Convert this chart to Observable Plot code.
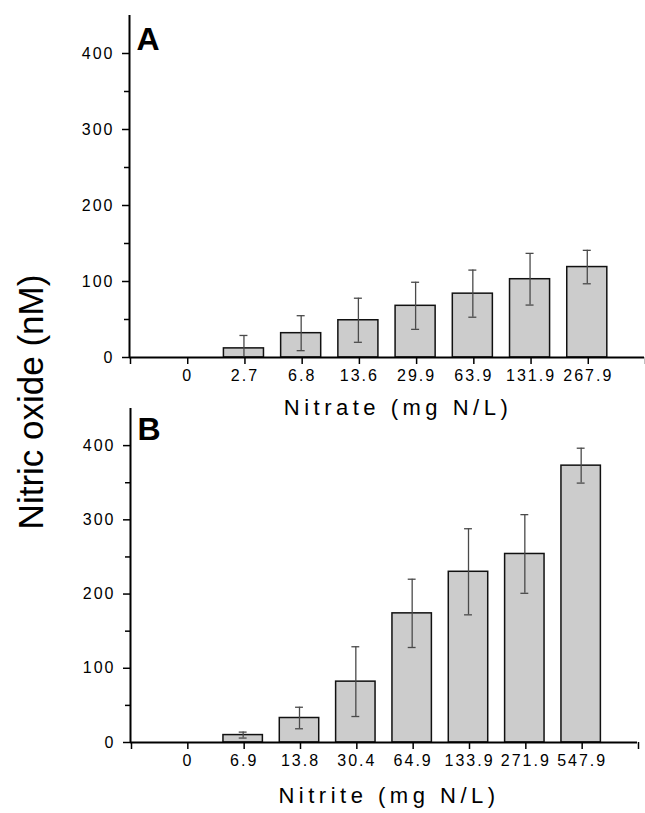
<!DOCTYPE html>
<html><head><meta charset="utf-8">
<script src="https://cdn.jsdelivr.net/npm/d3@7"></script>
<script src="https://cdn.jsdelivr.net/npm/@observablehq/plot@0.6"></script>
<style>
body{margin:0;background:#fff;}
#wrap{position:relative;width:645px;height:813px;font-family:"Liberation Sans",Arial,sans-serif;}
#wrap svg{position:absolute;left:0;}
</style></head><body><div id="wrap"></div>
<script>
// Panel A: nitrate
const nitrateLabels = ["0","2.7","6.8","13.6","29.9","63.9","131.9","267.9"];
const nitrateNO = [0,12,32,49,68,84,103,119];
const nitrateSD = [0,17,23,29,31,31,34,22];
// Panel B: nitrite
const nitriteLabels = ["0","6.9","13.8","30.4","64.9","133.9","271.9","547.9"];
const nitriteNO = [0,10,33,82,174,230,254,373];
const nitriteSD = [0,4,14.5,47,46,58,53,23.5];
const yTicks = [0,100,200,300,400];
const yMinorTicks = [50,150,250,350];
const yMax = 450;

const FONT = '"Liberation Sans", Arial, sans-serif';
const wrap = document.getElementById("wrap");

function panel(labels, values, sds, o) {
  const rows = labels.map((c,i)=>({pos:i+1,label:c,v:values[i],sd:sds[i]}));
  const bars = rows.filter(d=>d.v>0);
  const n = labels.length;
  const svg = Plot.plot({
    width:645, height:o.height,
    marginTop:o.mt, marginBottom:o.mb, marginLeft:o.ml, marginRight:o.mr,
    style:{background:"transparent", overflow:"visible", fontFamily:FONT, color:"black"},
    x:{domain:[0,n+1]},
    y:{domain:[0,yMax], clamp:true},
    marks:[
      Plot.rect(bars,{x1:d=>d.pos-0.35,x2:d=>d.pos+0.35,y1:0,y2:"v",fill:"#cccccc",stroke:"#111",strokeWidth:1.5}),
      Plot.ruleX(bars,{x:"pos",y1:d=>d.v-d.sd,y2:d=>d.v+d.sd,stroke:"#4a4a4a",strokeWidth:1.3}),
      Plot.ruleY(bars,{y:d=>d.v+d.sd,x1:d=>d.pos-0.07,x2:d=>d.pos+0.07,stroke:"#4a4a4a",strokeWidth:1.3}),
      Plot.ruleY(bars.filter(d=>d.v-d.sd>0),{y:d=>d.v-d.sd,x1:d=>d.pos-0.07,x2:d=>d.pos+0.07,stroke:"#4a4a4a",strokeWidth:1.3}),
      Plot.ruleY([0],{stroke:"#000",strokeWidth:2}),
      Plot.ruleX([0],{stroke:"#000",strokeWidth:2}),
      Plot.axisX({ticks:d3.range(0,n+2),tickFormat:i=>labels[i-1] ?? "",tickSize:7,tickPadding:5,strokeWidth:1.5,label:null,dx:1}),
      Plot.axisY({ticks:yTicks,tickSize:7,tickPadding:8,strokeWidth:1.5,label:null,tickFormat:d=>String(d)}),
      Plot.axisY({ticks:yMinorTicks,tickSize:5,tickFormat:()=>"",strokeWidth:1.5,label:null}),
      Plot.text([o.xLabel],{frameAnchor:"bottom",dy:o.ldy,dx:o.ldx,lineAnchor:"top",fontSize:22}),
      Plot.text([o.letter],{frameAnchor:"top-left",dx:7,dy:o.letterDy,textAnchor:"start",lineAnchor:"top",fontSize:32,fontWeight:"bold"})
    ]
  });
  d3.select(svg).selectAll("text").each(function(){
    const t = this.textContent;
    if (t === o.xLabel) { this.style.fontSize="22px"; this.style.letterSpacing="4.5px"; }
    else if (t === o.letter) { this.style.fontSize="32px"; this.style.letterSpacing="0px"; }
    else { this.style.fontSize="16px"; this.style.letterSpacing="2px"; }
    this.style.fontFamily = FONT;
  });
  svg.style.position="absolute";
  svg.style.top=o.top+"px";
  svg.style.left="0px";
  wrap.appendChild(svg);
}

panel(nitrateLabels, nitrateNO, nitrateSD, {top:0,height:425,mt:15,mb:68,ml:129,mr:1,xLabel:"Nitrate (mg N/L)",letter:"A",ldy:42,ldx:11,letterDy:12});
panel(nitriteLabels, nitriteNO, nitriteSD, {top:395,height:418,mt:13,mb:71,ml:130,mr:8,xLabel:"Nitrite (mg N/L)",letter:"B",ldy:45,ldx:5,letterDy:9});

const ov = d3.create("svg").attr("width",645).attr("height",813)
  .style("position","absolute").style("top","0px").style("left","0px").style("pointer-events","none");
ov.append("text").attr("transform","translate(43,402) rotate(-90)")
  .attr("text-anchor","middle").attr("font-family",FONT).attr("font-size",35).attr("fill","#000")
  .text("Nitric oxide (nM)");
wrap.appendChild(ov.node());
</script></body></html>
